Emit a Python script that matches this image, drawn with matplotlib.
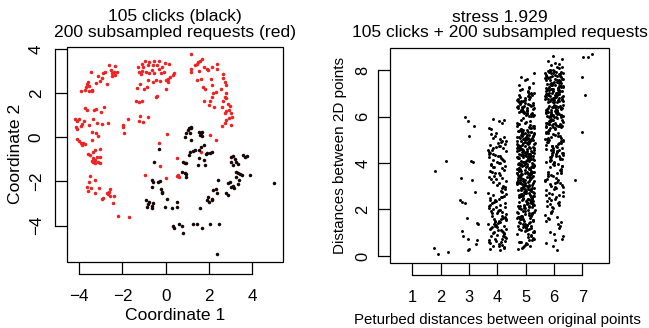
import numpy as np
import matplotlib.pyplot as plt
from matplotlib.patches import Rectangle

plt.rcParams['font.family'] = ['Liberation Sans', 'DejaVu Sans']

# ---- left panel: 2D coordinates ----
red_pts = [
    # upper left arc
    (-2.63, 3.28), (-2.35, 3.23), (-2.81, 2.97), (-2.92, 2.93), (-3.46, 2.94), (-2.50, 2.90),
    (-2.40, 2.96), (-2.27, 2.94), (-2.33, 2.82), (-2.47, 2.78), (-2.73, 2.40), (-3.12, 2.78),
    (-3.23, 2.45), (-3.58, 2.48), (-3.66, 2.42), (-3.69, 2.29), (-3.54, 2.34), (-3.74, 2.14),
    (-3.92, 2.10), (-3.43, 2.14), (-3.40, 2.10), (-3.55, 2.10), (-2.97, 2.70), (-3.05, 2.55),
    (-2.55, 3.05),
    # upper middle
    (-0.96, 3.47), (-0.78, 3.43), (-0.53, 3.46), (-0.30, 3.46), (-0.05, 3.38), (-1.10, 3.31),
    (-1.26, 3.20), (-1.04, 3.20), (-0.82, 3.28), (-0.61, 3.25), (-0.42, 3.26), (-0.19, 3.20),
    (0.13, 3.31), (0.38, 2.90), (0.32, 2.82), (0.19, 2.75), (0.10, 2.64), (0.01, 2.60),
    (0.12, 2.51), (-0.21, 2.90), (-0.33, 3.08), (-0.53, 2.90), (-0.79, 2.90), (-0.93, 2.96),
    (-1.10, 3.02), (-1.22, 2.96), (-1.35, 2.25), (-1.19, 2.40), (-1.02, 2.17), (-0.86, 2.29),
    (-0.82, 2.60), (-0.61, 2.52), (-0.45, 2.60), (-0.27, 2.57), (0.01, 2.17), (-0.39, 1.87),
    (-0.45, 1.81), (-1.15, 2.87), (-0.08, 2.97), (-0.65, 3.05),
    (-1.38, 1.65), (-1.24, 1.58), (-1.12, 1.65), (-1.19, 0.97), (-1.22, 0.72), (-1.04, 0.71),
    (-0.81, 0.91), (-1.76, 0.85), (-1.96, 0.56), (-1.96, 0.45), (-1.92, 0.21),
    # upper right arc
    (1.19, 3.76), (1.69, 3.53), (1.58, 3.46), (1.43, 3.31), (1.35, 3.25), (1.16, 3.08),
    (1.19, 2.94), (1.55, 3.02), (1.78, 3.20), (1.89, 3.09), (1.96, 3.05), (2.12, 3.20),
    (2.35, 3.31), (2.38, 3.08), (2.66, 2.87), (2.63, 2.70), (2.74, 2.48), (2.78, 2.37),
    (2.09, 2.63), (1.63, 2.63), (1.43, 2.60), (1.73, 2.29), (1.81, 2.17), (2.12, 2.37),
    (2.32, 2.07), (2.20, 1.99), (2.12, 1.84), (2.04, 1.62), (1.78, 1.62), (2.01, 1.46),
    (2.24, 1.39), (2.58, 1.39), (2.66, 1.62), (2.74, 1.84), (2.81, 1.99), (2.77, 1.77),
    (2.89, 1.49), (2.97, 1.43), (2.94, 1.24), (2.81, 1.19), (2.74, 1.12), (3.01, 1.12),
    (3.07, 0.94), (2.94, 0.86), (2.81, 0.78), (2.74, 0.66), (2.58, 0.51), (3.04, 0.56),
    (1.50, 3.40), (2.55, 2.20),
    # left middle
    (-3.74, 1.31), (-3.66, 1.24), (-3.32, 1.24), (-3.23, 1.28), (-3.01, 1.16), (-2.86, 1.39),
    (-4.20, 0.82), (-4.12, 0.74), (-4.01, 0.82), (-3.78, 0.74), (-3.35, 0.85), (-3.20, 0.66),
    (-2.97, 0.60), (-2.69, 0.66), (-3.94, 0.53), (-4.17, 0.48), (-4.12, 0.36), (-3.54, 0.56),
    (-3.43, 0.26), (-3.23, 0.21), (-4.12, -0.09), (-4.01, -0.15), (-3.92, -0.27), (-3.81, -0.27),
    (-3.89, -0.35), (-3.74, -0.32), (-3.40, -0.12), (-3.27, -0.57), (-3.35, -0.65), (-3.04, -0.54),
    (-3.58, -0.75), (-3.51, -0.80), (-3.35, -0.95), (-3.27, -1.03), (-3.20, -0.91), (-3.04, -0.88),
    (-3.12, -1.10), (-3.35, -1.10), (-3.27, -1.18), (-3.43, -1.06), (-3.04, -1.18), (-3.85, 0.60),
    (-3.15, 0.05),
    # lower left
    (-3.51, -1.75), (-3.27, -1.93), (-3.54, -2.04), (-3.63, -2.23), (-3.47, -2.31), (-3.58, -2.42),
    (-3.27, -2.51), (-3.07, -2.31), (-2.97, -2.81), (-2.89, -2.76), (-2.73, -2.54), (-2.58, -2.36),
    (-2.61, -2.46), (-2.69, -2.58), (-2.58, -2.66), (-2.38, -2.66), (-2.43, -2.96), (-2.19, -3.56),
    (-1.70, -3.59),
    # scattered
    (0.04, 0.14), (-0.30, -0.27), (-0.27, -1.30), (-0.96, -1.71), (-0.01, -1.83), (0.50, -0.95),
    (0.58, -1.71), (0.50, -1.75), (0.62, -1.78), (1.61, -0.65), (2.07, 0.11), (2.32, -0.12),
]

black_pts = [
    (1.09, 0.41), (1.15, 0.45), (1.19, 0.41), (1.04, 0.33), (0.96, 0.21), (0.89, 0.03),
    (1.12, 0.18), (1.15, -0.12), (1.55, 0.26), (1.63, 0.18), (1.66, 0.26), (1.70, 0.06),
    (1.58, 0.11), (1.78, -0.35), (1.61, -0.42), (1.55, -0.57), (1.35, -0.57), (1.12, -0.65),
    (1.09, -0.80), (1.24, -0.60), (1.93, -0.72), (1.86, -0.75), (2.04, -0.69), (2.16, -0.65),
    (1.55, -0.95), (1.76, -1.03), (1.81, -1.25), (1.50, -1.25), (0.81, -1.10), (0.89, -1.18),
    (0.96, -1.15), (0.73, -1.55), (0.89, -1.60), (0.96, -1.78), (0.96, -1.66), (-0.30, -0.54),
    (-0.55, -1.10), (3.04, -0.88), (3.12, -0.85), (3.04, -1.10), (3.20, -1.00), (3.27, -1.10),
    (3.35, -1.21), (3.09, -1.25), (3.58, -0.80), (3.66, -0.88), (3.74, -0.85), (3.24, -1.55),
    (3.35, -1.63), (3.43, -1.66), (3.51, -1.71), (3.89, -1.71), (3.27, -1.81), (3.40, -1.93),
    (3.35, -2.11), (2.97, -2.01), (2.89, -2.08), (3.04, -2.23), (3.12, -2.20), (3.17, -2.31),
    (2.89, -2.61), (2.78, -2.54), (2.40, -1.93), (2.32, -2.35), (2.20, -2.38), (2.35, -2.54),
    (2.16, -2.81), (2.00, -2.91), (1.92, -2.84), (2.12, -2.84), (1.96, -2.72), (-0.58, -2.01),
    (-0.65, -1.93), (-0.27, -1.96), (-0.35, -2.04), (-0.65, -2.26), (-0.24, -2.35), (-0.15, -2.46),
    (-0.19, -2.54), (0.04, -2.79), (-0.92, -2.84), (-0.76, -2.91), (-0.81, -3.02), (-0.65, -3.11),
    (-0.62, -3.22), (-0.86, -3.17), (-0.58, -2.99), (-0.04, -3.14), (0.27, -3.18), (0.50, -2.91),
    (0.53, -3.14), (1.58, -3.18), (0.32, -4.02), (0.38, -4.12), (0.62, -3.92), (0.73, -4.02),
    (0.78, -4.32), (1.24, -3.94), (1.46, -3.94), (1.70, -4.12), (2.04, -3.94), (2.47, -3.92),
    (2.35, -5.30), (5.02, -2.05),
]

# ---- right panel: 2D distance vs perturbed distance (jitter in hundredths) ----
col2_dx = [-0.20, 0.18, -0.22, -0.11, 0.24]
col2_y = [3.66, 4.09, 0.33, 0.09, 0.16]

col3_dx = [-0.16, -0.02, 0.18, 0.01, -0.28, 0.06, 0.13, 0.11, 0.22, -0.31, -0.25,
           -0.16, -0.07, 0.28, 0.31, -0.26, -0.20, -0.02, 0.27, 0.24, -0.05, 0.00]
col3_y = [5.96, 5.82, 5.60, 5.16, 3.34, 4.07, 4.03, 3.27, 2.77, 2.41, 2.31,
          2.27, 1.65, 1.41, 1.38, 1.09, 0.86, 0.73, 0.69, 0.52, 0.26, 0.29]

col4_dx = np.array("""
-26 10 -15 23 4 -31 17 -7 27 -21 13 -2 31 -17 7 -28 21 -11 1 25
-23 16 -5 30 -18 11 -32 5 22 -13 -27 18 -9 26 -1 12 -22 32 -16 2
15 -30 9 -20 28 -6 20 -25 6 -12 23 -4 30 -26 14 -10 17 -32 0 27
-15 21 -22 7 -28 31 -7 16 -18 11 25 -11 5 -23 18 -2 28 -17 10 -31
22 -9 15 -25 1 32 -14 20 -30 6 -20 26 -5 12 -27 17 2 -16 30 -10
9 -22 23 -4 14 -26 18 -12 27 4 -17 -6 -31 11 -21 15 25 -14 7 -28
21 -1 31 -20 10 -25 16 -9 26 -15 5 -32 20 -11 28 -19 12 -5 23 -27
2 17 -23 9 -16 30 -7 22 -29 13
""".split(), float) / 100
col4_y = np.array("""
0.31 0.27 0.45 0.38 0.52 0.61 0.49 0.73 0.66 0.84 0.58 0.91 0.79 0.97 0.43 0.69 0.88 1.04 1.12 0.95
1.21 1.08 1.33 1.17 1.26 1.45 1.38 1.52 1.29 1.61 1.14 1.74 1.49 1.68 1.83 1.57 1.92 1.79 2.03 1.41
1.88 2.14 1.97 2.26 2.09 2.35 1.65 2.21 2.44 2.31 2.58 2.12 2.67 2.49 2.81 2.39 2.94 2.72 3.07 2.86
3.18 3.02 3.29 3.13 3.41 3.24 3.55 3.36 3.62 3.47 3.71 3.84 3.58 3.93 3.77 4.05 3.88 4.12 3.99 4.24
4.08 4.33 4.17 4.42 4.28 4.51 4.37 4.63 4.46 4.72 4.56 4.81 4.68 4.89 4.77 4.96 4.85 5.07 4.93 5.16
5.02 5.24 5.11 5.31 4.21 3.66 2.55 1.36 0.82 1.99 2.63 3.33 4.39 4.74 5.45 5.72 5.84 5.91 5.79 5.52
1.03 1.24 1.59 1.86 2.18 0.56 0.74 1.47 2.28 3.81 4.01 4.58 4.12 3.44 2.97 1.72 1.11 0.64 0.35 2.41
1.95 2.77 3.95 4.31 4.66 1.55 1.27 0.99 2.06 2.52
""".split(), float)

col5_dx = np.array("""
-27 14 3 -9 22 -18 31 -4 9 -25 17 -13 26 1 -30 11 -6 20 -21 7
28 -15 -1 18 -24 6 -11 29 -19 12 -3 24 -28 16 -8 2 27 -22 10 -16
5 -29 21 -7 13 -20 30 -12 -2 19 -26 8 25 -10 15 -31 4 -17 23 -5
-14 32 -23 0 11 -27 17 -8 26 -3 -18 9 -30 21 6 -12 28 -21 14 -1
19 -6 -25 13 3 -16 29 -10 22 -28 7 16 -2 -19 31 -13 10 -24 1 25
-9 20 -31 8 -17 27 -4 12 -22 18 -11 4 30 -26 15 -7 23 -15 -1 11
24 -20 6 -29 16 2 -14 27 -6 10 -24 20 -9 -32 13 26 -18 5 -27 17
-3 9 -21 29 -12 22 -5 -28 14 0 19 -16 25 -8 -23 12 3 -30 18 -11
15 -26 28 -2 -15 8 21 -19 1 31 -7 -24 11 -13 24 -4 17 -29 7 -18
30 -10 -3 16 -22 5 -31 19 -14 26 2 -9 12 -27 20 -6 29 -17 9 -20
-12 23 -28 4 14 -25 10 -1 28 -16 -21 15 -5 32 -11 6 -26 18 -8 25
1 -19 27 -13 -4 21 -30 11 -23 7 24 -15 18 -2 -27 13 -9 30 -18 4
-24 16 -7 26 -20 3 12 -29 20 -10 -1 27 -17 8 -31 22 -3 15 -25 10
18 -5 -22 31 -14 9 -27 2 23 -12 14 -28 5 -20 29 -6 -15 19 0 -23
-16 12 25 -8 -29 17 -2 -21 6 28 -11 -26 21 3 -18 30 -13 7 24 -4
11 -31 4 -17 19 -9 27 -25 13 -3 22 -12 -28 16 1 -20 9 26 -14 -6
26 -3 -18 10 -26 23 -7 14 -30 5 17 -22 2 28 -10 -24 20 -1 12 -29
-8 29 -13 -24 7 15 -19 25 -5 -31 11 20 -16 0 31 -9 -27 17 3 -20
21 -11 -27 6 24 -2 -14 30 -23 9 -6 18 -30 13 -17 27 4 -21 8 -12
-1 25 -20 15 -9 -28 12 3 -16 22 -25 7 19 -5 -29 10 24 -13 -3 16
-22 28 -6 13 -18 4 21 -27 9 -11 26 -2 -15 31 -24 6
""".split(), float) / 100
col5_y = np.array("""
0.31 0.44 0.52 0.38 0.67 0.59 0.73 0.48 0.81 0.62 0.90 0.35 0.77 0.55 0.96 0.69 0.42 0.86 0.58 0.93
1.04 1.12 1.07 1.21 1.15 1.33 1.26 1.09 1.41 1.18 1.37 1.52 1.29 1.46 1.61 1.24 1.55 1.68 1.43 1.72
1.35 1.64 1.81 1.49 1.77 1.58 1.88 1.66 1.93 1.71 1.84 1.97 1.02 1.39 1.62 1.91 1.13 1.57 1.86 1.28
1.74 1.99 1.45 1.19 1.83 1.66 1.31 1.95 1.53 1.79
2.03 2.47 3.12 3.88 4.51 5.27 2.71 3.46 4.19 5.73 2.29 3.05 3.67 4.84 5.41 2.58 3.91 4.36 5.08 2.14
2.86 3.33 4.02 4.67 5.59 2.41 3.21 3.79 4.43 5.17 2.95 3.58 4.27 4.92 5.86 2.22 3.14 3.73 4.58 5.33
2.64 3.41 4.11 4.76 5.49 2.08 2.91 3.52 4.33 5.02 2.77 3.26 3.97 4.63 5.64 2.36 3.09 3.84 4.47 5.21
2.52 3.37 4.06 4.81 5.54 2.18 2.82 3.62 4.24 4.97 2.69 3.18 3.93 4.55 5.38 2.44 3.01 3.76 4.39 5.12
2.33 3.49 4.16 4.88 5.68 2.11 2.99 3.55 4.29 5.05 2.61 3.28 3.86 4.71 5.46 2.26 3.07 3.69 4.41 5.25
2.74 3.44 4.09 4.79 5.61 2.05 2.88 3.59 4.22 4.94 2.56 3.23 3.99 4.65 5.36 2.39 3.16 3.81 4.49 5.14
2.81 3.31 4.13 4.73 5.51 2.16 2.93 3.64 4.31 5.09 2.67 3.39 3.95 4.59 5.79 2.31 3.03 3.71 4.45 5.19
2.59 3.47 4.04 4.86 5.44 2.24 2.84 3.53 4.26 4.99 2.72 3.19 3.89 4.61 5.31 2.49 3.11 3.78 4.37 5.07
2.37 3.36 4.18 4.91 5.66 2.13 2.97 3.61 4.34 5.03 2.63 3.29 3.92 4.69 5.42 2.28 3.04 3.74 4.53 5.23
2.78 3.43 4.07 4.83 5.57 2.09 2.89 3.57 4.21 4.96 2.54 3.24 3.98 4.64 5.35 2.43 3.13 3.83 4.48 5.16
2.84 3.34 4.14 4.74 5.52 2.19 2.94 3.66 4.32 5.11 2.68 3.38 3.94 4.57 5.71 2.34 3.06 3.72 4.44 5.28
2.62 3.48 4.01 4.87 5.47 2.21 2.86 3.54 4.28 4.98 2.73 3.17 3.87 4.62 5.32 2.46 3.12 3.77 4.38 5.06
2.35 3.51 4.23 4.93 5.77 2.15 2.98 3.63 4.35 5.04 2.57 3.27 3.96 4.68 5.39 2.27 3.08 3.75 4.52 5.22
2.79 3.42 4.08 4.82 5.92 2.07 2.87 3.56 4.25 4.95 2.51 3.22 3.85 4.66 5.34 2.42 3.15 3.82 4.46 5.13
6.02 6.11 6.25 6.08 6.37 6.18 6.46 6.04 6.29 6.55 6.14 6.41 6.66 6.22 6.51 6.79 6.33 6.06 6.61 6.88
6.19 6.44 6.72 6.97 6.27 6.58 6.13 6.83 7.05 6.39 6.69 6.01 7.14 6.48 6.24 6.76 7.22 6.35 6.63 6.09
6.91 6.53 7.01 6.17 6.43 6.74 6.31 7.18 6.57 6.86 6.21 6.99 6.45 7.27 6.65 6.12 6.94 6.38 7.09 6.68
7.42 7.55 7.71 7.88 7.36 7.63
""".split(), float)

col6_dx = np.array("""
12 -27 5 30 -16 -3 22 -30 9 -12 26 -7 17 -22 1 -33 14 -9 28 -19
-4 19 -25 8 32 -14 3 -28 21 -10 15 -1 -23 27 -6 11 -31 24 -17 6
29 -11 -20 16 -2 25 -29 10 -15 31 -5 -26 13 2 -18 23 -8 20 -32 7
-21 4 27 -13 18 -24 -1 30 -9 14 -28 21 -3 -16 9 33 -22 0 16 -12
8 -30 13 -6 24 -19 29 -2 -25 11 5 -14 26 -27 19 -8 -20 31 3 -11
-26 22 -10 1 -29 15 7 -18 28 -4 -12 32 -21 10 -7 25 -15 4 -30 18
14 -8 31 -23 -3 20 -17 6 -31 27 -13 9 2 -24 30 -5 17 -28 12 -1
-19 26 -6 -29 11 -14 24 0 -22 17 28 -9 -32 15 -2 8 -25 21 -11 33
3 -15 20 -26 7 32 -10 -20 13 -3 23 -30 6 18 -16 -7 29 -13 25 -23
24 -1 -18 9 -27 16 -5 28 -12 -31 19 4 -21 12 -8 31 -19 2 -14 27
-10 18 -30 23 -6 -22 10 -1 30 -17 -4 14 -28 25 -13 5 21 -24 8 -2
31 -20 7 -12 17 -27 26 -9 -2 22 -29 11 -15 0 27 -18 13 -6 -26 16
-7 12 -24 29 -19 3 -11 19 -28 8 15 -21 32 -5 -14 22 -30 10 1 -16
19 -3 -17 6 -23 28 -8 -31 14 -10 25 -26 4 20 -12 -1 16 -29 30 -5
-13 27 2 -21 10 -32 18 -4 23 -15 -27 7 29 -9 -19 13 -2 24 -18 9
21 -16 -5 26 -24 11 -30 15 -8 32 -11 3 -20 28 -3 17
""".split(), float) / 100
col6_y = np.array("""
0.27 0.55 0.68 0.86 1.05 0.44 1.31 1.52 1.68 1.84 1.47 1.93 1.21 1.62 0.95 1.76 1.39 1.88 0.73 1.58
2.05 2.31 2.14 2.52 2.77 2.23 2.96 2.61 3.12 2.41 3.28 2.87 3.45 3.07 2.68 3.59 3.21 3.74 2.49 3.36
3.88 3.03 3.51 2.19 3.95 3.66 2.83 3.17 3.81 2.58 3.42 2.36 3.97 3.14 2.72 3.55 2.11 3.71 3.26 2.93
3.62 2.46 3.86 3.09 2.64 3.33 3.91 2.98 3.48 2.27
4.03 4.21 4.47 4.12 4.68 4.35 4.89 4.06 4.55 5.11 4.28 4.77 5.27 4.41 4.96 5.42 4.17 4.63 5.04 4.52
5.19 4.09 4.84 5.35 4.31 4.72 5.08 4.44 5.47 4.24 4.91 5.14 4.58 4.01 5.31 4.81 4.38 5.01 4.66 5.23
4.14 4.99 5.39 4.49 4.75 5.06 4.26 5.49 4.61 4.86 5.16 4.33 4.94 5.28 4.54 4.19 5.44 4.71 5.02 4.43
5.52 6.14 6.83 7.41 5.77 6.39 7.06 7.68 5.95 6.61 7.29 7.93 5.63 6.27 6.94 7.55 6.05 6.72 7.17 7.84
5.58 6.21 6.88 7.47 5.84 6.45 7.12 7.74 6.01 6.66 7.34 8.02 5.69 6.33 6.99 7.61 6.09 6.77 7.22 7.89
5.55 6.18 6.86 7.44 5.81 6.42 7.09 7.71 5.98 6.64 7.31 7.97 5.66 6.30 6.97 7.58 6.07 6.75 7.19 7.86
5.61 6.24 6.91 7.50 5.87 6.48 7.14 7.77 6.03 6.69 7.37 8.07 5.72 6.36 7.02 7.64 6.11 6.80 7.25 7.92
5.54 6.16 6.85 7.43 5.79 6.41 7.08 7.70 5.97 6.63 7.30 7.95 5.65 6.29 6.96 7.57 6.06 6.74 7.18 7.85
5.60 6.23 6.90 7.49 5.86 6.47 7.13 7.76 6.02 6.68 7.36 8.11 5.71 6.35 7.01 7.63 6.10 6.79 7.24 7.91
5.57 6.20 6.87 7.46 5.83 6.44 7.11 7.73 6.00 6.65 7.33 7.99 5.68 6.32 6.98 7.60 6.08 6.76 7.21 7.88
5.62 6.25 6.92 7.52 5.88 6.49 7.15 7.79 6.04 6.70 7.38 8.15 5.73 6.37 7.03 7.66 6.12 6.81 7.26 7.94
5.56 6.17 6.84 7.45 5.80 6.43 7.10 7.72 5.99 6.62 7.32 7.98 5.67 6.31 6.95 7.59 6.13 6.73 7.20 7.87
8.22 8.31 8.38 8.47 8.59 8.27
""".split(), float)

col7_dx = [0.01, 0.19, 0.35, 0.00, 0.09, -0.03, -0.26]
col7_y = [8.55, 8.55, 8.69, 7.68, 6.94, 5.35, 3.27]

strips = [(2, col2_dx, col2_y), (3, col3_dx, col3_y), (4, col4_dx, col4_y),
          (5, col5_dx, col5_y), (6, col6_dx, col6_y), (7, col7_dx, col7_y)]

W, H = 649, 328
fig = plt.figure(figsize=(W / 100, H / 100), dpi=100)


def px_axes(l, t, r, b):
    return fig.add_axes([l / W, 1 - b / H, (r - l) / W, (b - t) / H])


def r_style(ax, xt, yt, ypad, lsize):
    # R-like axes: box around plot, axis lines offset outward, ticks pointing to the box
    for s in ['top', 'right']:
        ax.spines[s].set_visible(False)
    for s in ['bottom', 'left']:
        ax.spines[s].set_position(('outward', 8.6))
        ax.spines[s].set_linewidth(0.9)
    ax.spines['bottom'].set_bounds(xt[0], xt[-1])
    ax.spines['left'].set_bounds(yt[0], yt[-1])
    ax.set_xticks(xt)
    ax.set_yticks(yt)
    ax.tick_params(direction='in', length=8.6, width=0.9, labelsize=lsize)
    ax.tick_params(axis='x', pad=11)
    ax.tick_params(axis='y', pad=ypad)
    for lab in ax.get_yticklabels():
        lab.set_rotation(90)
        lab.set_verticalalignment('center')
    ax.add_patch(Rectangle((0, 0), 1, 1, transform=ax.transAxes, fill=False,
                           lw=0.9, clip_on=False))


# left panel
ax1 = px_axes(66.7, 46.7, 282.7, 261.7)
rx, ry = zip(*red_pts)
bx, by = zip(*black_pts)
ax1.scatter(rx, ry, s=6.5, color='#ee2222', linewidths=0)
ax1.scatter(bx, by, s=6.5, color='#1a0505', linewidths=0)
ax1.set_xlim(-4.58, 5.41)
ax1.set_ylim(-5.63, 4.10)
r_style(ax1, [-4, -2, 0, 2, 4], [-4, -2, 0, 2, 4], ypad=8.0, lsize=12.3)

# right panel
ax2 = px_axes(390, 47.7, 609, 262.7)
for d, dx, y in strips:
    ax2.scatter(d + np.asarray(dx), y, s=4.5, color='black', linewidths=0)
ax2.set_xlim(0.21, 7.94)
ax2.set_ylim(-0.29, 8.96)
r_style(ax2, [1, 2, 3, 4, 5, 6, 7], [0, 2, 4, 6, 8], ypad=5.5, lsize=11.8)

# titles and axis labels
fs_t = 12.6
fig.text(174.7 / W, 1 - 21.5 / H, '105 clicks (black)', ha='center', va='baseline', fontsize=fs_t)
fig.text(174.7 / W, 1 - 37 / H, '200 subsampled requests (red)', ha='center', va='baseline', fontsize=fs_t)
fig.text(499.5 / W, 1 - 21.5 / H, 'stress 1.929', ha='center', va='baseline', fontsize=fs_t)
fig.text(499.5 / W, 1 - 37 / H, '105 clicks + 200 subsampled requests', ha='center', va='baseline', fontsize=12.5)

fig.text(174.7 / W, 1 - 320 / H, 'Coordinate 1', ha='center', va='baseline', fontsize=12.6)
fig.text(20 / W, 1 - 154.2 / H, 'Coordinate 2', ha='center', va='baseline', fontsize=12.6,
         rotation=90, rotation_mode='anchor')
fig.text(497 / W, 1 - 324 / H, 'Peturbed distances between original points', ha='center',
         va='baseline', fontsize=10.8)
fig.text(344 / W, 1 - 155.2 / H, 'Distances between 2D points', ha='center', va='baseline',
         fontsize=11, rotation=90, rotation_mode='anchor')

fig.savefig('out.png', dpi=100)
